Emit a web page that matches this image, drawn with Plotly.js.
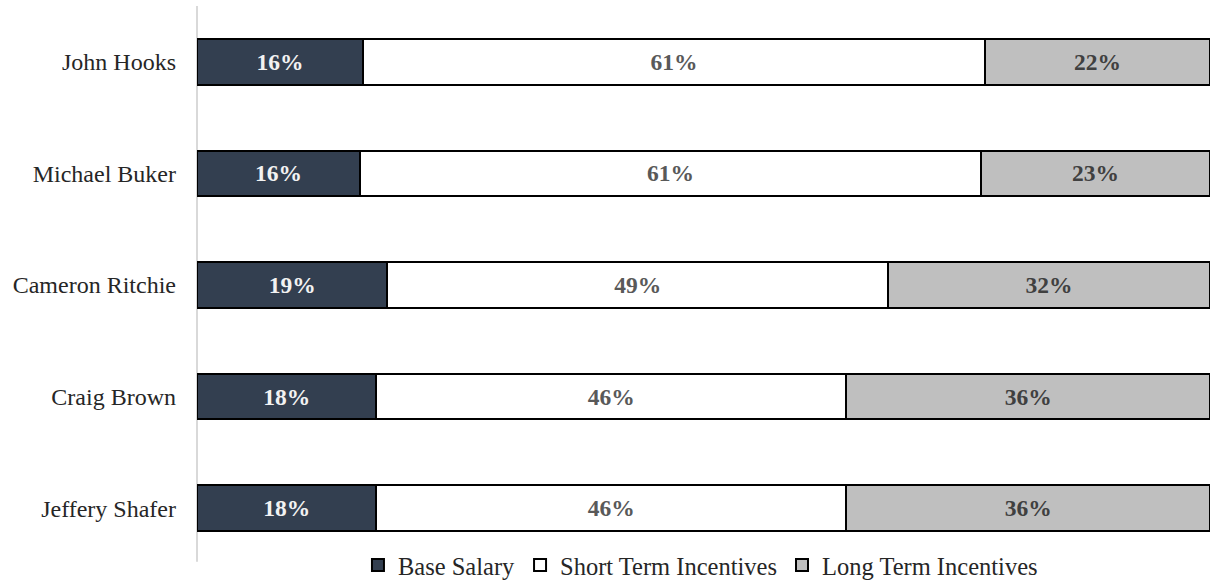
<!DOCTYPE html>
<html>
<head>
<meta charset="utf-8">
<script src="https://cdn.plot.ly/plotly-3.0.1.min.js"></script>
<style>html,body{margin:0;padding:0;background:#fff;}#chart{width:1210px;height:580px;}</style>
</head>
<body>
<div id="chart"></div>
<script>
const executives = ["John Hooks", "Michael Buker", "Cameron Ritchie", "Craig Brown", "Jeffery Shafer"];
const baseSalary = [16.4, 16.1, 18.8, 17.7, 17.7];
const shortTerm = [61.4, 61.3, 49.4, 46.4, 46.4];
const longTerm = [22.2, 22.6, 31.8, 35.9, 35.9];
const seriesNames = ["Base Salary", "Short Term Incentives", "Long Term Incentives"];

const serif = "Liberation Serif, Times New Roman, serif";
const fills = ["#333f50", "#ffffff", "#bfbfbf"];
const textColors = ["#f2f2f2", "#595959", "#404040"];
const values = [baseSalary, shortTerm, longTerm];

const traces = values.map((v, i) => ({
  type: "bar",
  orientation: "h",
  name: seriesNames[i],
  y: executives,
  x: v,
  marker: {color: fills[i], line: {color: "#000000", width: 2}},
  texttemplate: "%{x:.0f}%",
  textposition: "inside",
  insidetextanchor: "middle",
  textangle: 0,
  constraintext: "none",
  textfont: {family: serif, size: 23.5, color: textColors[i], weight: "bold"},
  hoverinfo: "skip"
}));

const layout = {
  width: 1210, height: 580,
  margin: {l: 197, r: 0, t: 6, b: 0, autoexpand: false},
  paper_bgcolor: "#ffffff", plot_bgcolor: "#ffffff",
  barmode: "stack",
  bargap: 0.59,
  showlegend: true,
  legend: {
    orientation: "h", x: 0.497, xanchor: "center",
    y: 0.026, yanchor: "middle",
    font: {family: serif, size: 24.5, color: "#262626"},
    itemwidth: 30, traceorder: "normal", bgcolor: "rgba(0,0,0,0)"
  },
  xaxis: {range: [0, 100], showgrid: false, zeroline: false, showticklabels: false, showline: false, fixedrange: true},
  yaxis: {
    domain: [16 / 574, 1],
    autorange: "reversed", showgrid: false, zeroline: false, showline: false,
    ticks: "", ticklabelstandoff: 20,
    tickfont: {family: serif, size: 24, color: "#262626"}
  },
  shapes: [{type: "line", xref: "paper", yref: "y domain", x0: 0, x1: 0, y0: 0.004, y1: 1,
            line: {color: "#d9d9d9", width: 2}, layer: "below"}]
};

Plotly.newPlot("chart", traces, layout, {displayModeBar: false, staticPlot: true});
</script>
</body>
</html>
